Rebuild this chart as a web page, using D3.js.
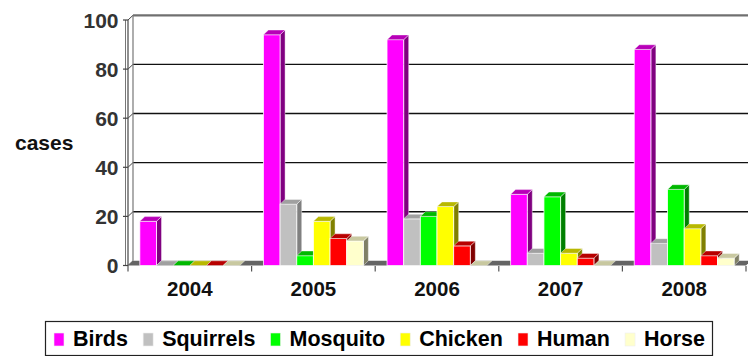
<!DOCTYPE html>
<html>
<head>
<meta charset="utf-8">
<script src="https://cdn.jsdelivr.net/npm/d3@7"></script>
<style>
  html, body { margin: 0; padding: 0; background: #ffffff; }
  svg { display: block; }
  text { font-family: "Liberation Sans", Arial, sans-serif; font-weight: bold; }
</style>
</head>
<body>
<svg id="chart" width="748" height="356"></svg>
<script>
// ---- data ----
const years = ["2004", "2005", "2006", "2007", "2008"];
const seriesNames = ["Birds", "Squirrels", "Mosquito", "Chicken", "Human", "Horse"];
const birds     = [18, 94, 92, 29, 88];
const squirrels = [0, 25, 19, 5, 9];
const mosquito  = [0, 4, 20, 28, 31];
const chicken   = [0, 18, 24, 5, 15];
const human     = [0, 11, 8, 3, 4];
const horse     = [0, 10, 0, 0, 3];
const yTicks = [0, 20, 40, 60, 80, 100];
const yLabel = "cases";

const seriesValues = [birds, squirrels, mosquito, chicken, human, horse];
const frontColors = ["#ff00ff", "#c0c0c0", "#00ff00", "#ffff00", "#ff0000", "#ffffcc"];
const sideColors  = ["#800080", "#808080", "#008000", "#808000", "#800000", "#808066"];
const topColors   = ["#b800b8", "#a0a0a0", "#00b800", "#b8b800", "#b80000", "#c8c8a0"];

// ---- layout ----
const svg = d3.select("#chart");
const left = 128, right = 746, dx = 5, dy = 4.7;
const x0 = d3.scaleBand().domain(years).range([left, right]).padding(0);
const x1 = d3.scaleBand().domain(seriesNames).range([0, x0.bandwidth()])
  .paddingInner(0).paddingOuter(0.71);
const y = d3.scaleLinear().domain([0, 100]).range([265.5, 20]);
const y0 = y(0);

// back wall grid lines
const grid = svg.append("g");
yTicks.filter(t => t > 0).forEach(t => {
  const top = t === 100;
  grid.append("line")
    .attr("x1", left + dx).attr("x2", 748)
    .attr("y1", y(t) - dy).attr("y2", y(t) - dy)
    .attr("stroke", top ? "#707070" : "#111")
    .attr("stroke-width", top ? 2.2 : 1.4);
});
// left wall diagonals
yTicks.forEach(t => {
  grid.append("line")
    .attr("x1", left).attr("y1", y(t))
    .attr("x2", left + dx).attr("y2", y(t) - dy)
    .attr("stroke", "#444").attr("stroke-width", 1);
});
// back wall left edge
grid.append("line")
  .attr("x1", left + dx).attr("x2", left + dx)
  .attr("y1", y(100) - dy).attr("y2", y0 - dy)
  .attr("stroke", "#777").attr("stroke-width", 1.2);

// floor
svg.append("polygon")
  .attr("points", [[left, y0], [right, y0], [right + dx, y0 - dy], [left + dx, y0 - dy]].map(p => p.join(",")).join(" "))
  .attr("fill", "#646464");

// front axis lines
svg.append("line").attr("x1", left - 2.5).attr("x2", left - 2.5)
  .attr("y1", y(100)).attr("y2", y0).attr("stroke", "#777").attr("stroke-width", 1);
svg.append("line").attr("x1", left).attr("x2", left)
  .attr("y1", y(100)).attr("y2", y0).attr("stroke", "#555").attr("stroke-width", 1.3);

// y ticks and labels
yTicks.forEach(t => {
  svg.append("line").attr("x1", left - 5).attr("x2", left)
    .attr("y1", y(t)).attr("y2", y(t)).attr("stroke", "#444").attr("stroke-width", 1.2);
  svg.append("text")
    .attr("x", 118.5).attr("y", y(t) + 7.5)
    .attr("text-anchor", "end")
    .attr("font-size", 21).attr("fill", "#333")
    .text(t);
});

// bottom ticks
d3.range(years.length + 1).forEach(i => {
  const xx = left + i * x0.bandwidth();
  svg.append("line").attr("x1", xx).attr("x2", xx)
    .attr("y1", y0 + 0.5).attr("y2", y0 + 6)
    .attr("stroke", "#555").attr("stroke-width", 1.2);
});

// category labels
years.forEach(yr => {
  svg.append("text")
    .attr("x", x0(yr) + x0.bandwidth() / 2).attr("y", 295.5)
    .attr("text-anchor", "middle")
    .attr("font-size", 20.5).attr("fill", "#111")
    .text(yr);
});

// y axis title
svg.append("text").attr("x", 15).attr("y", 150)
  .attr("font-size", 21).attr("fill", "#111").text(yLabel);

// bars (3D)
const bars = svg.append("g");
years.forEach((yr, ci) => {
  seriesNames.forEach((s, si) => {
    const v = seriesValues[si][ci];
    const bx = x0(yr) + x1(s), w = x1.bandwidth();
    const yv = y(v);
    const g = bars.append("g");
    const pts = a => a.map(p => p.join(",")).join(" ");
    if (v > 0) {
      g.append("polygon")
        .attr("points", pts([[bx + w, yv], [bx + w + dx, yv - dy], [bx + w + dx, y0 - dy], [bx + w, y0]]))
        .attr("fill", sideColors[si]).attr("stroke", "#fff").attr("stroke-width", 0.6).attr("stroke-opacity", 0.7);
      g.append("rect")
        .attr("x", bx).attr("y", yv).attr("width", w).attr("height", y0 - yv)
        .attr("fill", frontColors[si]).attr("stroke", "#fff").attr("stroke-width", 0.9).attr("stroke-opacity", 0.85);
    }
    g.append("polygon")
      .attr("points", pts([[bx, yv], [bx + dx, yv - dy], [bx + w + dx, yv - dy], [bx + w, yv]]))
      .attr("fill", topColors[si]).attr("stroke", "#fff").attr("stroke-width", 0.6).attr("stroke-opacity", 0.7);
  });
});

// legend
const lg = svg.append("g");
lg.append("rect").attr("x", 45.5).attr("y", 321.5).attr("width", 667).attr("height", 34)
  .attr("fill", "#fff").attr("stroke", "#222").attr("stroke-width", 1.2);
const items = seriesNames.map((s, i) => {
  const g = lg.append("g");
  g.append("rect").attr("x", 0).attr("y", 333).attr("width", 10).attr("height", 13)
    .attr("fill", frontColors[i]).attr("stroke", "#eee").attr("stroke-width", 0.6);
  const t = g.append("text").attr("x", 19).attr("y", 346)
    .attr("font-size", 21.5).attr("fill", "#000").text(s);
  return { g, w: 19 + t.node().getComputedTextLength() };
});
const startX = 54, endX = 705;
const totalW = d3.sum(items, d => d.w);
const gap = (endX - startX - totalW) / (items.length - 1);
let cx = startX;
items.forEach(it => { it.g.attr("transform", `translate(${cx},0)`); cx += it.w + gap; });
</script>
</body>
</html>
